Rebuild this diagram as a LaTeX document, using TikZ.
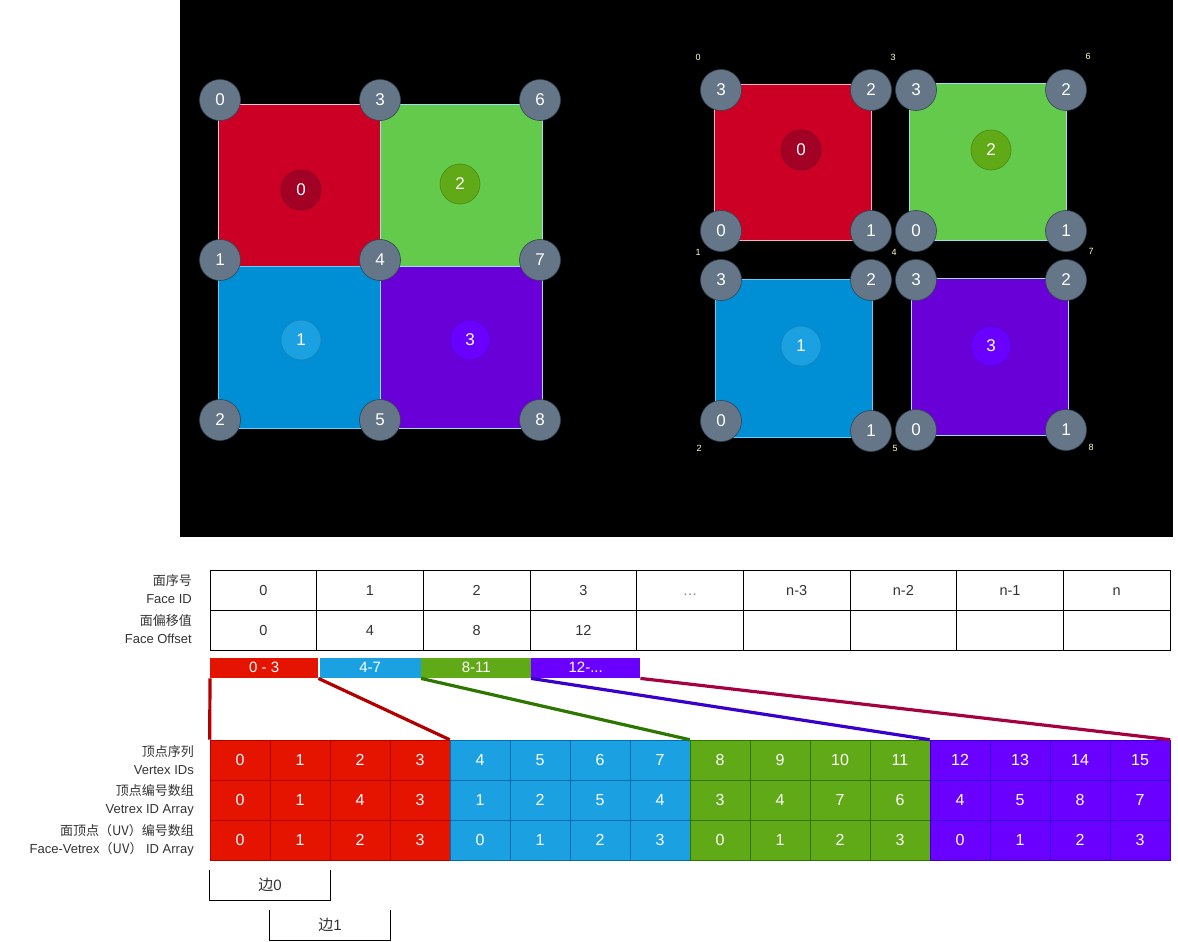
\documentclass[tikz,border=0pt]{standalone}
\usepackage{fontspec}
\setmainfont{Liberation Sans}
\newfontfamily\cjk{Noto Sans CJK SC}
\definecolor{vgray}{HTML}{647687}
\definecolor{vstroke}{HTML}{314354}
\definecolor{fred}{HTML}{CC0025}
\definecolor{fgreen}{HTML}{64CA4C}
\definecolor{fblue}{HTML}{008FD4}
\definecolor{fpurple}{HTML}{6A00D8}
\definecolor{cred}{HTML}{A20025}
\definecolor{cgreen}{HTML}{60A917}
\definecolor{cblue}{HTML}{1BA1E2}
\definecolor{cpurple}{HTML}{6A00FF}
\definecolor{acol0}{HTML}{E51400}
\definecolor{acol1}{HTML}{1BA1E2}
\definecolor{acol2}{HTML}{60A917}
\definecolor{acol3}{HTML}{6A00FF}
\definecolor{astr0}{HTML}{B20000}
\definecolor{astr1}{HTML}{006EAF}
\definecolor{astr2}{HTML}{2D7600}
\definecolor{astr3}{HTML}{3700CC}
\definecolor{lcrimson}{HTML}{A50040}
\definecolor{txt}{HTML}{333333}
\definecolor{smy}{HTML}{FFFFCC}
\begin{document}
\begin{tikzpicture}[x=1pt,y=-1pt,
  vtx/.style={circle, fill=vgray, draw=vstroke, line width=0.6pt, minimum size=41pt, inner sep=0pt, text=white, font=\fontsize{17}{19}\selectfont},
  fc/.style={circle, draw=#1!80!black, fill=#1, line width=0.6pt, minimum size=40pt, inner sep=0pt, text=white, font=\fontsize{17}{19}\selectfont},
  sm/.style={text=smy, inner sep=0pt, font=\fontsize{9}{10}\selectfont},
  tcell/.style={draw=black, line width=0.8pt, minimum width=106.667pt, minimum height=40pt, inner sep=0pt, text height=10.5pt, text depth=0pt, text=txt, font=\fontsize{14.5}{16}\selectfont},
  acell/.style={minimum width=60pt, minimum height=40pt, inner sep=0pt, text height=11.5pt, text depth=0pt, text=white, font=\fontsize{16}{18}\selectfont},
  bar/.style={fill=#1, minimum height=20pt, inner sep=0pt, text height=10.5pt, text depth=1pt, text=white, font=\fontsize{15}{17}\selectfont, anchor=north west},
  lbl/.style={align=right, anchor=east, inner sep=0pt, text=txt, font=\fontsize{13}{18}\selectfont},
  link/.style={line width=3.2pt, #1},
  edgebox/.style={minimum width=120pt, minimum height=30pt, inner sep=0pt, text=txt, font=\fontsize{15}{17}\selectfont},
  sqb/.style={draw=#1, line width=0.8pt}
]
\useasboundingbox (0,0) rectangle (1178,942);
\fill[black] (180,0) rectangle (1173,537);

% ---------- left grid ----------
\fill[fred,sqb={white!80!fred}] (218,104) rectangle (380,266);
\fill[fgreen,sqb={cyan!40!white}] (380,104) rectangle (542,266);
\fill[fblue,sqb={cyan!60!white}] (218,266) rectangle (380,428);
\fill[fpurple,sqb={cyan!40!white}] (380,266) rectangle (542,428);
\node[fc=cred] (L0) at (301,190) {0};
\node[fc=cgreen] (L2) at (460,184) {2};
\node[fc=cblue] (L1) at (301,340) {1};
\node[fc=cpurple] (L3) at (470,340) {3};
\node[vtx] (lv0) at (220,100) {0};
\node[vtx] (lv3) at (380,100) {3};
\node[vtx] (lv6) at (540,100) {6};
\node[vtx] (lv1) at (220,260) {1};
\node[vtx] (lv4) at (380,260) {4};
\node[vtx] (lv7) at (540,260) {7};
\node[vtx] (lv2) at (220,420) {2};
\node[vtx] (lv5) at (380,420) {5};
\node[vtx] (lv8) at (540,420) {8};

% ---------- right grid ----------
\fill[fred,sqb={white!70!fred}] (714,84) rectangle (871,240);
\fill[fgreen,sqb={cyan!40!white}] (909,83) rectangle (1066,240);
\fill[fblue,sqb={cyan!60!white}] (715,279) rectangle (872,437);
\fill[fpurple,sqb={cyan!40!white}] (911,278) rectangle (1068,435);
\node[fc=cred] (R0) at (801,150) {0};
\node[fc=cgreen] (R2) at (991,150) {2};
\node[fc=cblue] (R1) at (801,346) {1};
\node[fc=cpurple] (R3) at (991,346) {3};
\node[vtx] (a3) at (721,90) {3};
\node[vtx] (a2) at (871,90) {2};
\node[vtx] (a0) at (721,231) {0};
\node[vtx] (a1) at (871,231) {1};
\node[vtx] (c3) at (916,90) {3};
\node[vtx] (c2) at (1066,90) {2};
\node[vtx] (c0) at (916,231) {0};
\node[vtx] (c1) at (1066,231) {1};
\node[vtx] (b3) at (721,280) {3};
\node[vtx] (b2) at (871,280) {2};
\node[vtx] (b0) at (721,421) {0};
\node[vtx] (b1) at (871,431) {1};
\node[vtx] (d3) at (916,280) {3};
\node[vtx] (d2) at (1066,280) {2};
\node[vtx] (d0) at (916,430) {0};
\node[vtx] (d1) at (1066,430) {1};
\node[sm] (s0) at (698,57) {0};
\node[sm] (s3) at (893,57) {3};
\node[sm] (s6) at (1088,56) {6};
\node[sm] (s1) at (698,252) {1};
\node[sm] (s4) at (894,252) {4};
\node[sm] (s7) at (1091,251) {7};
\node[sm] (s2) at (699,448) {2};
\node[sm] (s5) at (895,448) {5};
\node[sm] (s8) at (1091,447) {8};

% ---------- face table ----------
\node[lbl] (lblfid) at (192,589) {{\cjk 面序号}\\Face ID};
\node[lbl] (lblfoff) at (192,629) {{\cjk 面偏移值}\\Face Offset};
\foreach \t [count=\i from 0] in {0,1,2,3,{\color{gray}\dots},n-3,n-2,n-1,n}
  \node[tcell] (fid\i) at ({210+106.667*(\i+0.5)},590) {\t};
\foreach \t [count=\i from 0] in {0,4,8,12,{},{},{},{},{}}
  \node[tcell] (foff\i) at ({210+106.667*(\i+0.5)},630) {\t};

% ---------- bars ----------
\node[bar=acol0, minimum width=108pt] (bar0) at (210,658) {0 - 3};
\node[bar=acol1, minimum width=101pt] (bar1) at (319.5,658) {4-7};
\node[bar=acol2, minimum width=110pt] (bar2) at (421,658) {8-11};
\node[bar=acol3, minimum width=109pt] (bar3) at (531,658) {12-...};

% ---------- vertex arrays ----------
\node[lbl] (lblv) at (194,760) {{\cjk 顶点序列}\\Vertex IDs};
\node[lbl] (lblva) at (194,800) {{\cjk 顶点编号数组}\\Vetrex ID Array};
\node[lbl] (lbluv) at (194,840) {{\cjk 面顶点（UV）编号数组}\\Face-Vetrex{\cjk（UV）} ID Array};
\foreach \i in {0,...,15}{
  \pgfmathtruncatemacro\g{\i/4}
  \node[acell, fill=acol\g, draw=astr\g, line width=0.6pt] (v\i) at ({240+60*\i},760) {\i};
}
\foreach \t [count=\i from 0] in {0,1,4,3,1,2,5,4,3,4,7,6,4,5,8,7}{
  \pgfmathtruncatemacro\g{\i/4}
  \node[acell, fill=acol\g, draw=astr\g, line width=0.6pt] (va\i) at ({240+60*\i},800) {\t};
}
\foreach \t [count=\i from 0] in {0,1,2,3,0,1,2,3,0,1,2,3,0,1,2,3}{
  \pgfmathtruncatemacro\g{\i/4}
  \node[acell, fill=acol\g, draw=astr\g, line width=0.6pt] (uv\i) at ({240+60*\i},840) {\t};
}

% ---------- links ----------
\draw[link=astr0] (bar0.south west) -- (v0.north west);
\draw[link=astr0] (bar0.south east) -- (v4.north west);
\draw[link=astr2] (bar2.south west) -- (v8.north west);
\draw[link=astr3] (bar3.south west) -- (v12.north west);
\draw[link=lcrimson] (bar3.south east) -- (v15.north east);

% ---------- edges ----------
\node[edgebox] (e0) at (270,885) {{\cjk 边}0};
\node[edgebox] (e1) at (330,925) {{\cjk 边}1};
\draw[line width=0.8pt] (e0.north west) -- (e0.south west) -- (e0.south east) -- (e0.north east);
\draw[line width=0.8pt] (e1.north west) -- (e1.south west) -- (e1.south east) -- (e1.north east);
\end{tikzpicture}
\end{document}
